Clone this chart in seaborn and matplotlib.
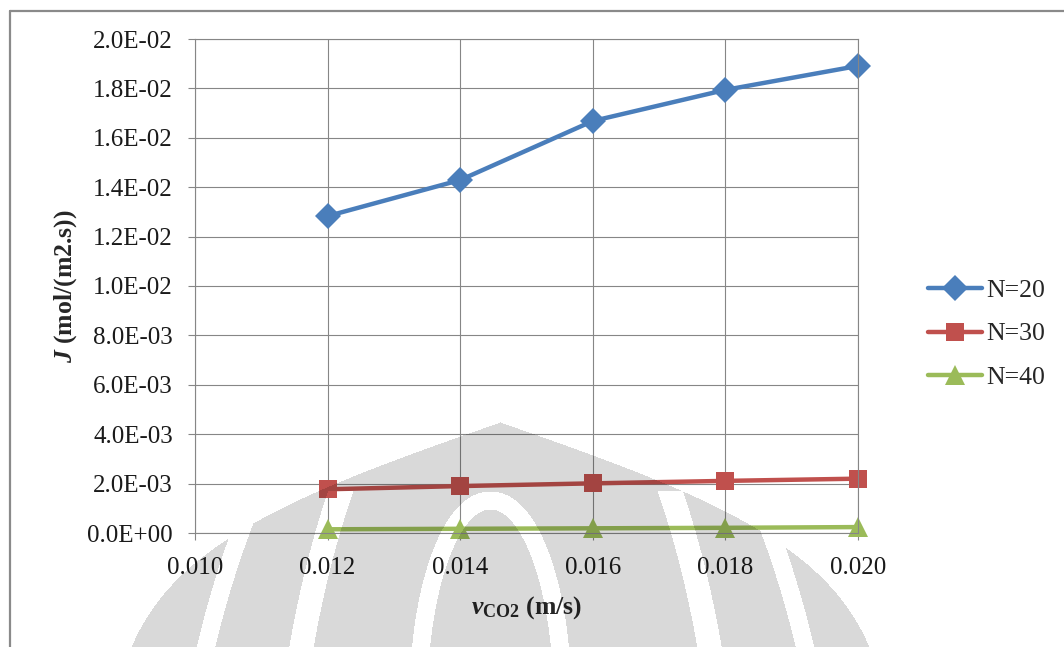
import numpy as np
import pandas as pd
import matplotlib
matplotlib.use("Agg")
import matplotlib.pyplot as plt
import seaborn as sns
from matplotlib.lines import Line2D
from matplotlib.ticker import FuncFormatter, MultipleLocator

# ---- data -------------------------------------------------------------
velocity = [0.012, 0.014, 0.016, 0.018, 0.020]          # v_CO2 (m/s)
flux_n20 = [0.01283, 0.01429, 0.01668, 0.01794, 0.01891]  # J, N=20
flux_n30 = [0.00177, 0.00190, 0.00201, 0.00211, 0.00220]  # J, N=30
flux_n40 = [0.00015, 0.00017, 0.00019, 0.00021, 0.00024]  # J, N=40
series_labels = ["N=20", "N=30", "N=40"]

df = pd.DataFrame({
    "v": velocity * 3,
    "J": flux_n20 + flux_n30 + flux_n40,
    "series": [s for s in series_labels for _ in velocity],
})

# ---- style ------------------------------------------------------------
sns.set_theme(style="white")
plt.rcParams["font.family"] = ["Liberation Serif", "DejaVu Serif"]
plt.rcParams["mathtext.fontset"] = "custom"
plt.rcParams["mathtext.rm"] = "Liberation Serif:bold"
plt.rcParams["mathtext.bf"] = "Liberation Serif:bold"
plt.rcParams["mathtext.it"] = "Liberation Serif:italic:bold"

palette = {"N=20": "#4A7EBB", "N=30": "#C0504D", "N=40": "#9BBB59"}
markers = {"N=20": "D", "N=30": "s", "N=40": "^"}
marker_sizes = {"D": 13, "s": 13.5, "^": 15}
grid_grey = "#868686"


def marker_key(artist):
    mk = artist.get_marker()
    return mk.get_marker() if hasattr(mk, "get_marker") else mk


W, H = 1064, 647
fig = plt.figure(figsize=(W / 100, H / 100), dpi=100)
ax = fig.add_axes([195 / W, 1 - 533 / H, (858 - 195) / W, (533 - 39) / H])

sns.lineplot(data=df, x="v", y="J", hue="series", style="series",
             palette=palette, markers=markers, dashes=False,
             linewidth=3.2, markersize=13, markeredgewidth=0,
             ax=ax, legend=True)

for line in ax.get_lines():
    key = marker_key(line)
    if key in marker_sizes:
        line.set_markersize(marker_sizes[key])
    line.set_clip_on(False)

ax.set_xlim(0.010, 0.020)
ax.set_ylim(0, 0.020)
ax.xaxis.set_major_locator(MultipleLocator(0.002))
ax.yaxis.set_major_locator(MultipleLocator(0.002))
ax.xaxis.set_major_formatter(FuncFormatter(lambda v, p: f"{v:.3f}"))
ax.yaxis.set_major_formatter(FuncFormatter(lambda v, p: f"{v:.1E}"))

ax.grid(True, color=grid_grey, linewidth=0.8)
ax.set_axisbelow(True)
for sp in ax.spines.values():
    sp.set_color(grid_grey)
    sp.set_linewidth(0.8)

ax.tick_params(axis="both", which="major", direction="out", length=5,
               width=0.8, color=grid_grey, labelsize=18, labelcolor="#1a1a1a",
               bottom=True, left=True)
ax.tick_params(axis="y", pad=11)
ax.tick_params(axis="x", pad=12)

ax.set_xlabel(r"$\mathit{v}_{\mathrm{CO2}}$ (m/s)", fontsize=18.5,
              fontweight="bold")
ax.set_ylabel(r"$\mathit{J}$ (mol/(m2.s))", fontsize=18.5,
              fontweight="bold")
ax.xaxis.set_label_coords(0.5, -0.123)
ax.yaxis.set_label_coords(-0.175, 0.5)

handles, labels = ax.get_legend_handles_labels()
leg = ax.legend(handles, labels, loc="center left",
                bbox_to_anchor=(928 / W, 1 - 334 / H),
                bbox_transform=fig.transFigure, frameon=False,
                fontsize=18.5, handlelength=2.1, handletextpad=0.15,
                labelspacing=0.8, borderpad=0, borderaxespad=0)
for h in leg.legend_handles:
    h.set_linewidth(3.2)
    key = marker_key(h)
    if key in marker_sizes:
        h.set_markersize(marker_sizes[key])

# ---- outer frame ------------------------------------------------------
frame_kw = dict(color="#8a8a8a", linewidth=1.6, transform=fig.transFigure)
fig.add_artist(Line2D([9.5 / W, 1.0], [1 - 10.5 / H, 1 - 10.5 / H], **frame_kw))
fig.add_artist(Line2D([9.5 / W, 9.5 / W], [0.0, 1 - 10.5 / H], **frame_kw))

# ---- faint background emblem overlay ---------------------------------
yy, xx = np.mgrid[0:H, 0:W].astype(float)
t = np.clip(yy - 422.0, 0, None)
half_w = 400.0 * np.tanh(t / 140.0)
dome = (yy >= 422) & (np.abs(xx - 500.0) <= half_w)


def ring(cx, cy, rx, ry, width, ytop=-1):
    dx, dy = xx - cx, yy - cy
    r = np.sqrt((dx / rx) ** 2 + (dy / ry) ** 2) + 1e-9
    grad = np.sqrt((dx / rx ** 2) ** 2 + (dy / ry ** 2) ** 2) / r + 1e-12
    dist = np.abs(r - 1.0) / grad
    return (dist < width / 2.0) & (yy > ytop)


gaps = (ring(490, 700, 72, 200, 18)
        | ring(505, 900, 225, 600, 24, 490)
        | ring(505, 960, 335, 700, 18, 505))
mask = dome & ~gaps
overlay = np.zeros((H, W, 4))
overlay[..., 3] = np.where(mask, 0.15, 0.0)
fig.figimage(overlay, xo=0, yo=0, origin="upper", zorder=10)

fig.savefig("out.png", dpi=100)
